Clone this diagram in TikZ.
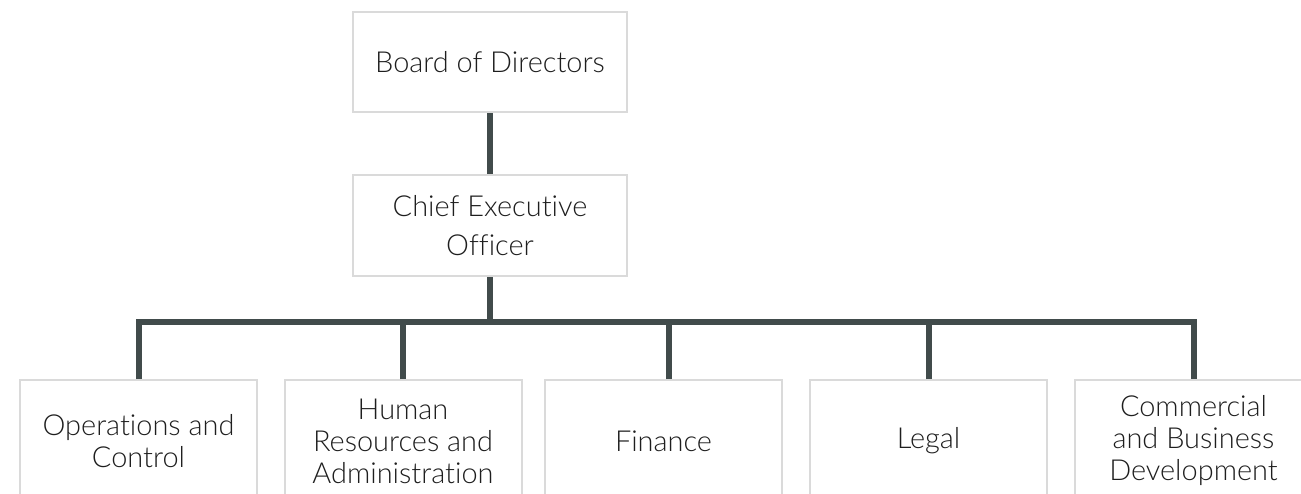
\documentclass[tikz,border=0pt]{standalone}
\usepackage{fontspec}
\setmainfont{Lato}[UprightFont=* Light, Ligatures=NoCommon, RawFeature={-liga;-dlig}]
\definecolor{boxline}{HTML}{DADADA}
\definecolor{conn}{HTML}{414B4B}
\definecolor{txt}{HTML}{1E1E1E}
\tikzset{
  orgbox/.style={draw=boxline, line width=1.5pt, fill=white, align=center, text=txt,
    font=\fontsize{21.7}{29}\selectfont, inner sep=0pt},
  topbox/.style={orgbox, minimum width=274*0.75pt, minimum height=100*0.75pt},
  deptbox/.style={orgbox, minimum width=237*0.75pt, minimum height=122*0.75pt,
    font=\fontsize{21.7}{24}\selectfont},
  conline/.style={draw=conn, line width=4.5pt, line join=miter}
}
\begin{document}
\begin{tikzpicture}[x=0.75pt, y=-0.75pt]
\useasboundingbox (0,0) rectangle (1301,493);
\clip (0,0) rectangle (1301,493);
\node[topbox] (board) at (490,62) {Board of Directors};
\node[topbox, minimum height=101*0.75pt] (ceo) at (490,225.5) {Chief Executive\\Officer};
\node[deptbox] (ops) at (138.5,441) {Operations and\\Control};
\node[deptbox] (hr) at (403,441) {Human\\Resources and\\Administration};
\node[deptbox] (fin) at (663.5,441) {Finance};
\node[deptbox] (leg) at (928.5,441) {Legal};
\node[deptbox] (com) at (1193.5,441) {Commercial\\and Business\\Development};
\coordinate (J) at (490,322);
\path[conline] (board.south) -- (ceo.north);
\path[conline] (ceo.south) -- (J);
\path[conline] (ops.north) |- (J) -| (com.north);
\path[conline] (hr.north) -- (hr.north |- J);
\path[conline] ([xshift=4pt]fin.north) -- ([xshift=4pt]fin.north |- J);
\path[conline] (leg.north) -- (leg.north |- J);
\end{tikzpicture}
\end{document}
